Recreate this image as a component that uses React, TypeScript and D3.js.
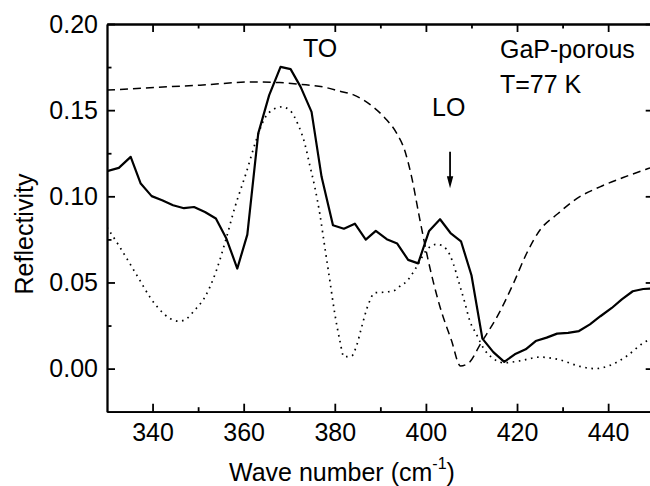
import React, { useRef, useEffect } from 'react';
import * as d3 from 'd3';

// measured spectrum (solid line)
const measWave = [330.0, 332.6, 335.2, 337.4, 339.8, 342.1, 344.5, 346.9, 349.1, 351.5, 353.9, 356.2, 358.6, 360.8, 363.2, 365.6, 368.1, 370.3, 372.5, 374.9, 377.1, 379.6, 382.0, 384.4, 386.8, 389.0, 391.4, 393.7, 396.1, 398.3, 400.7, 403.1, 405.4, 407.7, 410.0, 412.4, 414.8, 417.2, 419.5, 421.9, 424.1, 426.5, 428.8, 431.2, 433.6, 436.0, 438.3, 440.8, 443.0, 445.4, 447.7, 450.0];
const measRefl = [0.1146, 0.1165, 0.1229, 0.1074, 0.1001, 0.0977, 0.0948, 0.0931, 0.0938, 0.0909, 0.0871, 0.0755, 0.0581, 0.0778, 0.1365, 0.1587, 0.1751, 0.1738, 0.1635, 0.1490, 0.1113, 0.0832, 0.0812, 0.0841, 0.0749, 0.0799, 0.0751, 0.0726, 0.0631, 0.0611, 0.0799, 0.0867, 0.0787, 0.0739, 0.0542, 0.0174, 0.0096, 0.0039, 0.0083, 0.0112, 0.0160, 0.0180, 0.0203, 0.0207, 0.0218, 0.0257, 0.0304, 0.0352, 0.0402, 0.0449, 0.0462, 0.0466];

// dashed curve
const dashWave = [330.0, 339.4, 350.4, 362.4, 367.9, 372.3, 377.4, 381.1, 384.0, 388.4, 391.0, 393.6, 395.3, 396.8, 398.7, 400.5, 403.1, 405.6, 407.6, 409.6, 411.8, 416.2, 419.2, 422.1, 425.0, 429.0, 433.1, 438.2, 443.3, 448.8, 450.0];
const dashRefl = [0.1616, 0.1630, 0.1645, 0.1664, 0.1660, 0.1650, 0.1635, 0.1610, 0.1590, 0.1519, 0.1455, 0.1365, 0.1270, 0.1120, 0.0861, 0.0629, 0.0358, 0.0164, 0.0015, 0.0038, 0.0135, 0.0329, 0.0494, 0.0668, 0.0803, 0.0900, 0.0987, 0.1055, 0.1109, 0.1161, 0.1172];

// dotted curve
const dotWave = [330.0, 332.8, 335.0, 337.2, 339.4, 341.3, 343.9, 345.8, 347.5, 349.1, 351.5, 353.9, 356.0, 358.0, 360.6, 362.8, 364.6, 366.5, 368.3, 370.1, 372.0, 373.4, 374.5, 375.6, 376.7, 377.8, 378.9, 380.0, 381.1, 382.0, 383.7, 384.8, 385.9, 387.3, 388.8, 391.4, 393.2, 394.3, 395.8, 397.9, 400.1, 402.4, 404.5, 406.0, 407.1, 408.6, 409.6, 411.1, 412.7, 414.8, 417.1, 420.6, 425.0, 429.4, 433.8, 437.1, 440.4, 444.1, 447.7, 450.0];
const dotRefl = [0.0820, 0.0706, 0.0610, 0.0513, 0.0416, 0.0350, 0.0290, 0.0275, 0.0290, 0.0335, 0.0416, 0.0561, 0.0740, 0.0930, 0.1140, 0.1330, 0.1452, 0.1504, 0.1519, 0.1500, 0.1413, 0.1307, 0.1181, 0.1055, 0.0900, 0.0706, 0.0513, 0.0319, 0.0164, 0.0069, 0.0074, 0.0135, 0.0242, 0.0368, 0.0440, 0.0445, 0.0455, 0.0478, 0.0507, 0.0588, 0.0687, 0.0722, 0.0693, 0.0610, 0.0513, 0.0377, 0.0280, 0.0199, 0.0116, 0.0058, 0.0034, 0.0045, 0.0067, 0.0051, 0.0013, 0.0000, 0.0019, 0.0073, 0.0149, 0.0180];

const xTicks = [340, 360, 380, 400, 420, 440];
const xMinor = [350, 370, 390, 410, 430, 450];
const yTicks = [0, 0.05, 0.1, 0.15, 0.2];
const yMinor = [0.025, 0.075, 0.125, 0.175];

const FONT = '"Liberation Sans", Arial, Helvetica, sans-serif';

export default function App() {
  const ref = useRef<SVGSVGElement>(null);

  useEffect(() => {
    const left = 107;
    const top = 24;
    const right = 653.7;
    const bottom = 411.7;

    const svg = d3.select(ref.current);
    svg.selectAll('*').remove();

    const x = d3.scaleLinear().domain([330, 450]).range([left, right]);
    const y = d3.scaleLinear().domain([-0.025, 0.2]).range([bottom, top]);

    svg.append('defs').append('clipPath').attr('id', 'plot')
      .append('rect').attr('x', left).attr('y', top)
      .attr('width', right - left).attr('height', bottom - top);

    const plot = svg.append('g').attr('clip-path', 'url(#plot)');

    const line = (xs: number[], ys: number[], curve: d3.CurveFactory) =>
      d3.line<number>().x(d => x(xs[d])).y(d => y(ys[d])).curve(curve)(d3.range(xs.length));

    plot.append('path')
      .attr('d', line(dashWave, dashRefl, d3.curveMonotoneX))
      .attr('fill', 'none').attr('stroke', '#000')
      .attr('stroke-width', 1.5).attr('stroke-dasharray', '8 5');

    plot.append('path')
      .attr('d', line(dotWave, dotRefl, d3.curveMonotoneX))
      .attr('fill', 'none').attr('stroke', '#000')
      .attr('stroke-width', 1.7).attr('stroke-dasharray', '1.6 4.6');

    plot.append('path')
      .attr('d', line(measWave, measRefl, d3.curveLinear))
      .attr('fill', 'none').attr('stroke', '#000')
      .attr('stroke-width', 2.2).attr('stroke-linejoin', 'round');

    // axes, ticks pointing inward
    const style = (g: any) => {
      g.attr('font-family', FONT).attr('font-size', 25);
      g.selectAll('path, line').attr('stroke', '#000').attr('stroke-width', 1.8);
      g.selectAll('text').attr('fill', '#000');
    };

    svg.append('g').attr('transform', `translate(0,${bottom})`)
      .call(d3.axisBottom(x).tickValues(xTicks).tickSize(-8).tickSizeOuter(0).tickPadding(12).tickFormat(d3.format('d')))
      .call(style);
    svg.append('g').attr('transform', `translate(0,${bottom})`)
      .call(d3.axisBottom(x).tickValues(xMinor).tickSize(-4.5).tickSizeOuter(0).tickFormat(() => ''))
      .call(style);
    svg.append('g').attr('transform', `translate(0,${top})`)
      .call(d3.axisTop(x).tickValues(xTicks).tickSize(-8).tickSizeOuter(0).tickFormat(() => ''))
      .call(style);
    svg.append('g').attr('transform', `translate(0,${top})`)
      .call(d3.axisTop(x).tickValues(xMinor).tickSize(-4.5).tickSizeOuter(0).tickFormat(() => ''))
      .call(style);

    svg.append('g').attr('transform', `translate(${left},0)`)
      .call(d3.axisLeft(y).tickValues(yTicks).tickSize(-8).tickSizeOuter(0).tickPadding(9).tickFormat(d3.format('.2f')))
      .call(style);
    svg.append('g').attr('transform', `translate(${left},0)`)
      .call(d3.axisLeft(y).tickValues(yMinor).tickSize(-4.5).tickSizeOuter(0).tickFormat(() => ''))
      .call(style);
    svg.append('g').attr('transform', `translate(${right},0)`)
      .call(d3.axisRight(y).tickValues(yTicks).tickSize(-8).tickSizeOuter(0).tickFormat(() => ''))
      .call(style);

    // labels
    const txt = svg.append('g').attr('font-family', FONT).attr('font-size', 25).attr('fill', '#000');
    txt.append('text').attr('x', 303).attr('y', 57).text('TO');
    txt.append('text').attr('x', 432).attr('y', 116).text('LO');
    txt.append('text').attr('x', 500).attr('y', 58).text('GaP-porous');
    txt.append('text').attr('x', 500).attr('y', 93).text('T=77 K');

    txt.append('text')
      .attr('transform', 'translate(33,234) rotate(-90)')
      .attr('text-anchor', 'middle')
      .text('Reflectivity');

    const xl = txt.append('text').attr('x', 229).attr('y', 481);
    xl.append('tspan').text('Wave number (cm');
    xl.append('tspan').attr('font-size', 16).attr('dy', -12).text('-1');
    xl.append('tspan').attr('dy', 12).text(')');

    // arrow marking LO
    const ax = x(405.3);
    svg.append('line')
      .attr('x1', ax).attr('x2', ax)
      .attr('y1', y(0.1258)).attr('y2', y(0.110))
      .attr('stroke', '#000').attr('stroke-width', 1.8);
    const tip = y(0.1047);
    svg.append('path')
      .attr('d', `M${ax - 3.2},${tip - 12}L${ax + 3.2},${tip - 12}L${ax},${tip}Z`)
      .attr('fill', '#000');
  }, []);

  return (
    <svg
      ref={ref}
      width={650}
      height={486}
      style={{ position: 'absolute', left: 0, top: 0, background: '#fff' }}
    />
  );
}
